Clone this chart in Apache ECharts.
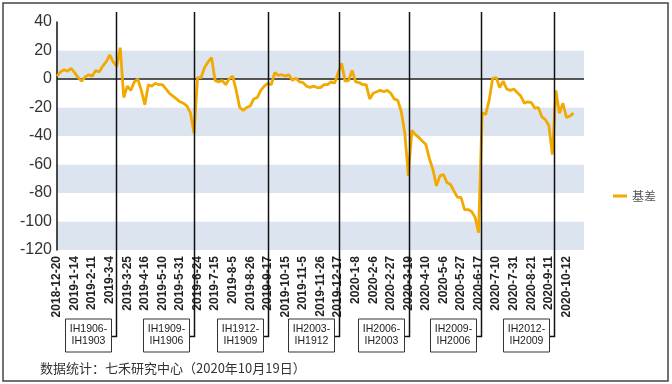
<!DOCTYPE html>
<html><head><meta charset="utf-8">
<script src="https://cdn.jsdelivr.net/npm/echarts@6/dist/echarts.min.js"></script>
<style>html,body{margin:0;padding:0;background:#fff}#c{width:672px;height:384px}</style>
</head><body><div id="c"></div>
<script>
// x-axis tick labels, one every 15 trading days (5 points of 3 trading days)
const tickLabels = ['2018-12-20','2019-1-14','2019-2-11','2019-3-4','2019-3-25','2019-4-16','2019-5-10','2019-5-31','2019-6-24','2019-7-15','2019-8-5','2019-8-26','2019-9-17','2019-10-15','2019-11-5','2019-11-26','2019-12-17','2020-1-8','2020-2-6','2020-2-27','2020-3-19','2020-4-10','2020-5-6','2020-5-27','2020-6-17','2020-7-10','2020-7-31','2020-8-21','2020-9-11','2020-10-12'];
// basis values, one every 3 trading days from 2018-12-20
const basis = [2,5,6.5,5.5,7.5,4.5,1,-1.5,1.5,3,2,6,5,9,12,17,12,9,22,-13,
-5,-8,-2,0,-8,-18,-4,-5,-3,-4,-4,-7,-10,-12,-14,-16,-17,-19,-24,-38,
1,1,8,12,15,-1,-2,-1,-4,0,2,-8,-20,-22,-20,-19,-14,-13,-8,-5,
-3,-4,4.5,2.5,3,2,3,-1,0.5,-2,-2.5,-5,-6,-5,-6,-6,-4,-4,-2,-3,
4,11,-1.5,-1,6,-2,-2.5,-4,-4,-14,-10,-9,-8,-9,-8,-10,-14,-15,-23,-38,
-68,-36,-39,-41,-43.6,-46,-56,-63.5,-75,-68,-67,-72.7,-74,-78.7,-83,-83,-91.6,-91.6,-93,-97,
-107.8,-23.6,-25,-15,0.5,1,-6,-1.5,-7,-8,-7,-9.5,-12,-17,-16,-16.5,-20.5,-20,-26.5,-28.5,
-32.6,-53,-8,-24,-17,-27,-26,-24];
// contract roll positions (in 3-trading-day units) and their labels
const rollPos = [16.8, 39.0, 60.0, 80.3, 100.1, 120.6, 141.6];
const rollNames = ['IH1906-\nIH1903','IH1909-\nIH1906','IH1912-\nIH1909','IH2003-\nIH1912','IH2006-\nIH2003','IH2009-\nIH2006','IH2012-\nIH2009'];
const seriesName = '基差';
const footer = '数据统计：七禾研究中心（2020年10月19日）';

(function () {
const chart = echarts.init(document.getElementById('c'), null, {renderer:'canvas'});
const FONT = '"Liberation Sans", Arial, sans-serif';
const T = 'rgba(0,0,0,0)';
const option = {
  animation: false,
  backgroundColor: '#fff',
  grid: {left: 57, right: 88, top: 22, bottom: 134, containLabel: false, outerBoundsMode: 'none'},
  legend: {
    data: [seriesName], left: 608, top: 185, icon: 'rect', itemWidth: 14, itemHeight: 3,
    textStyle: {fontSize: 12, color: '#555', fontFamily: '"Noto Sans CJK SC", sans-serif'}
  },
  xAxis: {
    type: 'value', min: 0, max: 150, interval: 5,
    axisLine: {show: false}, axisTick: {show: false}, splitLine: {show: false},
    axisLabel: {
      rotate: 90, margin: 6, fontSize: 12, fontWeight: 'bold', color: '#222', fontFamily: FONT,
      showMinLabel: true, showMaxLabel: true,
      formatter: v => tickLabels[Math.round(v/5)] || ''
    }
  },
  yAxis: {
    type: 'value', min: -120, max: 40, interval: 20,
    axisLine: {show: true, lineStyle: {color: '#111', width: 1.5}},
    axisTick: {show: false},
    axisLabel: {fontSize: 16, color: '#333', margin: 5, fontFamily: FONT},
    splitLine: {show: true, lineStyle: {width: 2.2, color: [T,T,T,T,T,T,'#555',T,T]}},
    splitArea: {show: true, areaStyle: {color: ['#dbe4ef', '#ffffff']}}
  },
  series: [{
    name: seriesName, type: 'line', showSymbol: false, z: 3,
    lineStyle: {width: 2.8, color: '#F2A900'}, itemStyle: {color: '#F2A900'},
    data: basis.map((v, i) => [i, v])
  }]
};
chart.setOption(option);

const g = [];
g.push({type: 'rect', shape: {x: 3, y: 3, width: 665, height: 378}, style: {fill: 'none', stroke: '#444', lineWidth: 1.5}, z: 10});
const lineTop = 12, boxTop = 319, boxH = 33, boxW = 46;
rollPos.forEach((p, k) => {
  const x = Math.round(chart.convertToPixel({xAxisIndex: 0}, p)) + 0.5;
  const cy = boxTop + boxH / 2 + 1;
  g.push({type: 'polyline', shape: {points: [[x, lineTop], [x, cy], [x - 5, cy]]}, style: {stroke: '#111', lineWidth: 1.5, fill: null}, z: 20});
  g.push({type: 'rect', shape: {x: x - 5 - boxW, y: boxTop, width: boxW, height: boxH}, style: {fill: '#fff', stroke: '#333', lineWidth: 1}, z: 21});
  g.push({type: 'text', x: x - 5 - boxW / 2, y: boxTop + boxH / 2, style: {text: rollNames[k], fontSize: 10.5, lineHeight: 12, fill: '#222', align: 'center', verticalAlign: 'middle', fontFamily: FONT}, z: 22});
});
g.push({type: 'text', x: 40, y: 368, style: {text: footer, fontSize: 13, fill: '#333', verticalAlign: 'middle', fontFamily: '"Noto Sans CJK SC", sans-serif'}, z: 22});
chart.setOption({graphic: g});
})();
</script>
</body></html>
